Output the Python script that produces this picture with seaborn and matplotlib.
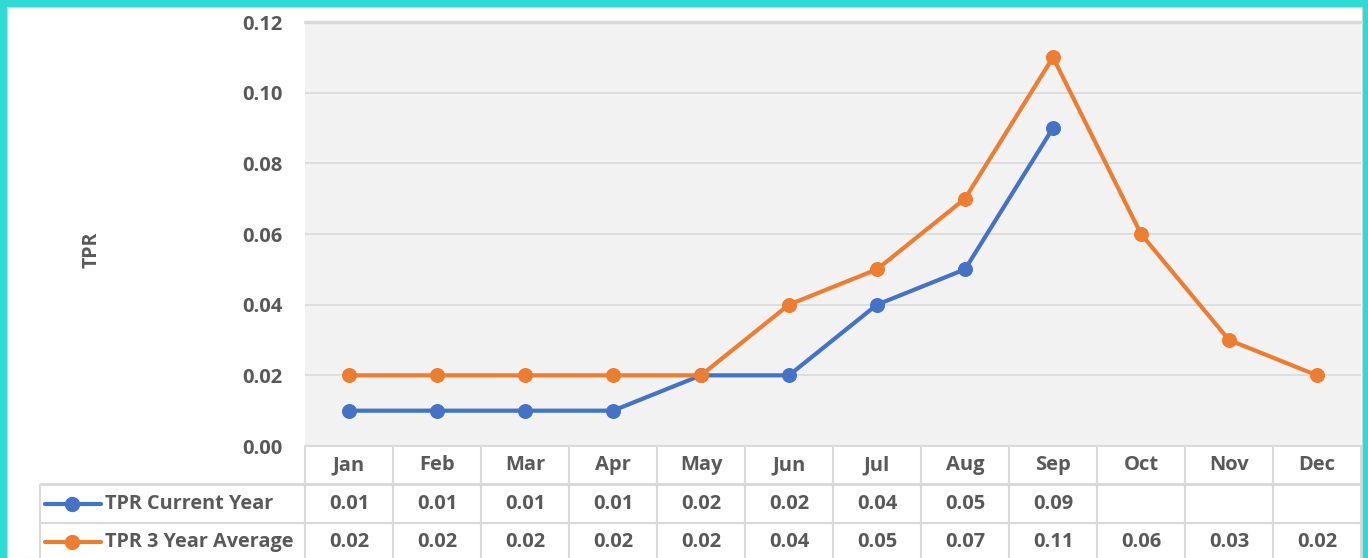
import numpy as np
import pandas as pd
import matplotlib
matplotlib.use('Agg')
import matplotlib.pyplot as plt
from matplotlib.patches import Rectangle
import seaborn as sns

# Datos
months = ['Jan', 'Feb', 'Mar', 'Apr', 'May', 'Jun', 'Jul', 'Aug', 'Sep', 'Oct', 'Nov', 'Dec']
tpr_current = [0.01, 0.01, 0.01, 0.01, 0.02, 0.02, 0.04, 0.05, 0.09, np.nan, np.nan, np.nan]
tpr_avg = [0.02, 0.02, 0.02, 0.02, 0.02, 0.04, 0.05, 0.07, 0.11, 0.06, 0.03, 0.02]
series_names = ['TPR Current Year', 'TPR 3 Year Average']
series_colors = ['#4472C4', '#ED7D31']
y_ticks = [0.00, 0.02, 0.04, 0.06, 0.08, 0.10, 0.12]

TXT = '#595959'
GRID = '#D9D9D9'
FONT = ['Open Sans', 'DejaVu Sans']
FS = 14.5

sns.set_theme(style='white')
plt.rcParams['font.family'] = FONT

W, H = 1368, 558
fig = plt.figure(figsize=(W / 100, H / 100), dpi=100)
fig.patch.set_facecolor('#2FDAD3')
fig.patches.append(Rectangle((7 / W, 0), (1362 - 7) / W, (H - 7) / H, transform=fig.transFigure,
                             facecolor='white', edgecolor='#D0D0D0', lw=0.8, zorder=-10))

# Área del gráfico
x0, x1, ytop, ybot = 305, 1361, 22, 446
ax = fig.add_axes([x0 / W, (H - ybot) / H, (x1 - x0) / W, (ybot - ytop) / H])
ax.set_facecolor('#F2F2F2')

df = pd.DataFrame({'x': np.arange(len(months)), 'cur': tpr_current, 'avg': tpr_avg})
for col, name, c in zip(['cur', 'avg'], series_names, series_colors):
    d = df.dropna(subset=[col])
    sns.lineplot(data=d, x='x', y=col, ax=ax, color=c, lw=3, marker='o', markersize=10,
                 markeredgecolor=c, label=name, legend=False)

ax.set_xlim(-0.5, len(months) - 0.5)
ax.set_ylim(0, 0.12)
ax.set_yticks(y_ticks)
ax.set_yticklabels([f'{v:.2f}' for v in y_ticks], fontsize=FS, fontweight='bold', color=TXT)
ax.tick_params(axis='y', length=0, pad=16)
ax.set_xticks([])
ax.set_xlabel('')
ax.set_ylabel('')
for s in ax.spines.values():
    s.set_visible(False)
ax.grid(axis='y', color=GRID, lw=1.2)
ax.set_axisbelow(True)
# línea de la cuadrícula superior
ax.axhline(0.12, color=GRID, lw=2.5, clip_on=False)

fig.text(92 / W, 1 - 250 / H, 'TPR', rotation=90, ha='center', va='center',
         fontsize=14, fontweight='bold', color=TXT)

# Tabla de datos
ax_w, ax_h = x1 - x0, ybot - ytop
lab_left = 40
row_h = 38.5
fmt = lambda v: '' if np.isnan(v) else f'{v:.2f}'
cell_text = [[''] + months,
             [''] + [fmt(v) for v in tpr_current],
             [''] + [fmt(v) for v in tpr_avg]]
col_w = [x0 - lab_left] + [ax_w / len(months)] * len(months)
tbl = ax.table(cellText=cell_text, cellLoc='center', colWidths=col_w,
               bbox=[(lab_left - x0) / ax_w, -3 * row_h / ax_h, (x1 - lab_left) / ax_w, 3 * row_h / ax_h])
tbl.auto_set_font_size(False)
tbl.set_fontsize(FS)
for (r, c), cell in tbl.get_celld().items():
    cell.set_edgecolor(GRID)
    cell.set_linewidth(1.5)
    cell.set_facecolor('white')
    cell.get_text().set_fontweight('bold')
    cell.get_text().set_color(TXT)
    cell.get_text().set_fontfamily(FONT)
    if r == 0 and c == 0:
        cell.visible_edges = 'BR'

# claves de la leyenda dentro de la tabla
for i, (name, c) in enumerate(zip(series_names, series_colors)):
    yc = (-(1.5 + i) * row_h) / ax_h
    ax.plot([(45 - x0) / ax_w, (101 - x0) / ax_w], [yc, yc], transform=ax.transAxes,
            color=c, lw=3, clip_on=False, solid_capstyle='round')
    ax.plot([(72 - x0) / ax_w], [yc], transform=ax.transAxes, marker='o', ms=10,
            color=c, clip_on=False)
    ax.text((105 - x0) / ax_w, yc, name, transform=ax.transAxes, ha='left', va='center',
            fontsize=14.3, fontweight='bold', color=TXT)

fig.savefig('out.png', dpi=100, facecolor=fig.get_facecolor())
